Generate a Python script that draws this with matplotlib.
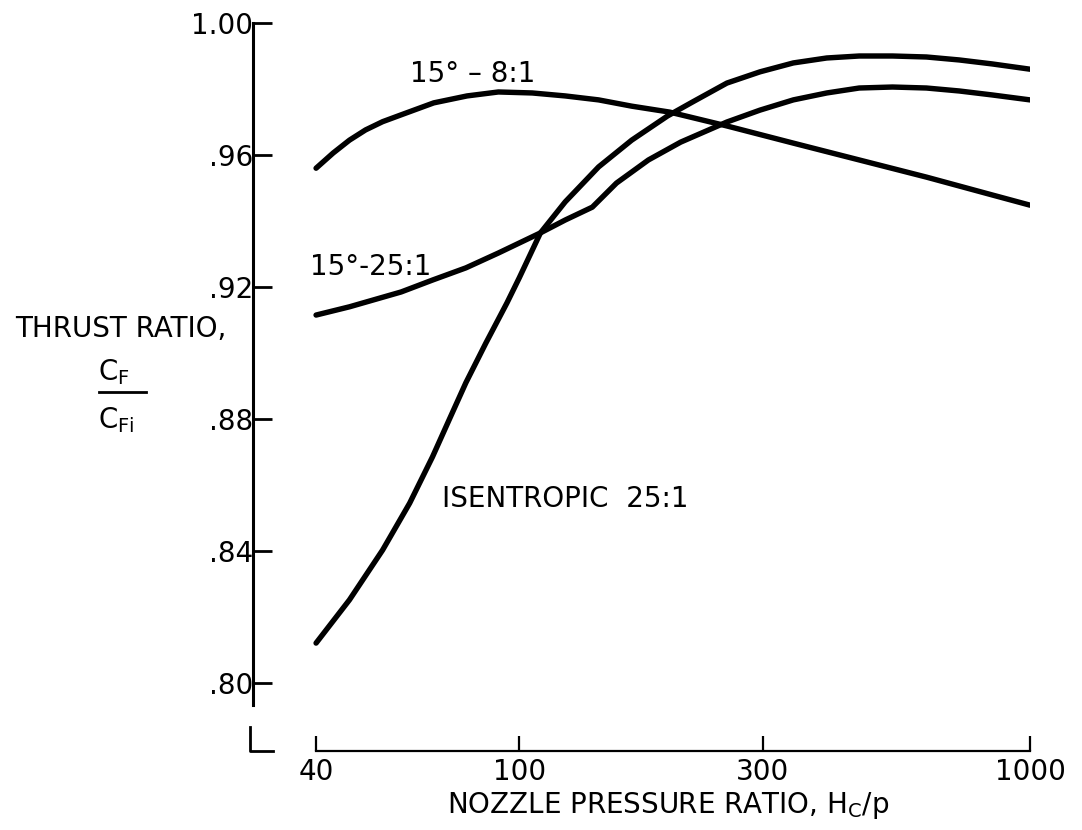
import numpy as np
import matplotlib
matplotlib.use("Agg")
import matplotlib.pyplot as plt
from matplotlib.lines import Line2D

# nozzle pressure ratio H_c/p and thrust ratio C_F/C_Fi
x_8to1 = [40, 43.2, 46.5, 50, 54, 59, 68, 79, 91, 106, 123, 143, 166, 197, 255, 344, 463, 627, 843, 1000]
y_8to1 = [0.956, 0.9606, 0.9645, 0.9676, 0.9701, 0.9723, 0.9758, 0.9779, 0.9791, 0.9788, 0.9779,
          0.9767, 0.9748, 0.9730, 0.9688, 0.9636, 0.9585, 0.9533, 0.9479, 0.9448]

x_25to1 = [40, 46.5, 58.7, 67.6, 78.6, 91, 110, 123, 139, 155, 179, 207, 255, 296, 344, 400,
           463, 538, 627, 727, 843, 1000]
y_25to1 = [0.9115, 0.9140, 0.9185, 0.9221, 0.9258, 0.9303, 0.9364, 0.9403, 0.9442, 0.9515,
           0.9585, 0.9639, 0.9700, 0.9736, 0.9767, 0.9788, 0.9803, 0.9806, 0.9803, 0.9794,
           0.9782, 0.9767]

x_isen = [40, 46.5, 54, 61, 67.6, 73, 78.6, 86, 94.6, 100, 110, 123, 143, 166, 195, 218, 255,
          296, 344, 400, 463, 538, 627, 727, 843, 1000]
y_isen = [0.8121, 0.8252, 0.8403, 0.8545, 0.8685, 0.8800, 0.8910, 0.9030, 0.9152, 0.9228,
          0.9364, 0.9458, 0.9564, 0.9645, 0.9718, 0.9760, 0.9818, 0.9852, 0.9879, 0.9894,
          0.9900, 0.9900, 0.9897, 0.9888, 0.9876, 0.9860]

x_ticks = [40, 100, 300, 1000]
x_ticklabels = ["40", "100", "300", "1000"]
y_ticks = [0.80, 0.84, 0.88, 0.92, 0.96, 1.00]
y_ticklabels = [".80", ".84", ".88", ".92", ".96", "1.00"]

W, H = 1082, 830
FS = 20


def fx(px):
    return px / W


def fy(py):
    return 1 - py / H


plt.rcParams['font.family'] = ['DejaVu Sans']
plt.rcParams['mathtext.fontset'] = 'dejavusans'

fig = plt.figure(figsize=(W / 100, H / 100), dpi=100)
ax = fig.add_axes([fx(253), fy(751), fx(1030) - fx(253), fy(23) - fy(751)])

for xs, ys in [(x_8to1, y_8to1), (x_25to1, y_25to1), (x_isen, y_isen)]:
    ax.plot(xs, ys, color='black', lw=3.9, solid_capstyle='round', solid_joinstyle='round')

ax.set_xscale('log')
ax.set_xlim(30.1, 1000)
ax.set_ylim(0.7794, 1.0)
ax.minorticks_off()
ax.set_xticks(x_ticks)
ax.set_xticklabels(x_ticklabels)
ax.set_yticks(y_ticks)
ax.set_yticklabels(y_ticklabels)

ax.spines['top'].set_visible(False)
ax.spines['right'].set_visible(False)
ax.spines['left'].set_linewidth(2.2)
ax.spines['left'].set_bounds(0.7933, 1.0)
ax.spines['bottom'].set_linewidth(1.6)
ax.spines['bottom'].set_bounds(40, 1000)

ax.tick_params(axis='y', direction='in', length=14, width=2, pad=0, labelsize=FS)
ax.tick_params(axis='x', direction='in', length=11, width=1.6, pad=5, labelsize=FS)

# little "L" break mark below the y axis
ax.add_line(Line2D([-0.004, -0.004, 0.026], [0.033, 0.0, 0.0], transform=ax.transAxes,
                   color='black', lw=2, clip_on=False))

# curve labels
fig.text(fx(410), fy(82), "15\u00b0 \u2013 8:1", fontsize=FS, va='baseline')
fig.text(fx(310), fy(275), "15\u00b0-25:1", fontsize=FS, va='baseline')
fig.text(fx(442), fy(507), "ISENTROPIC  25:1", fontsize=FS, va='baseline')

# y label
fig.text(fx(15), fy(337), "THRUST RATIO,", fontsize=FS, va='baseline')
fig.text(fx(98), fy(380), r"$\mathregular{C_F}$", fontsize=FS, va='baseline')
fig.add_artist(Line2D([fx(99), fx(146)], [fy(392), fy(392)], color='black', lw=2))
fig.text(fx(98), fy(428), r"$\mathregular{C_{Fi}}$", fontsize=FS, va='baseline')

# x label
fig.text(fx(447), fy(813), r"NOZZLE PRESSURE RATIO, $\mathregular{H_C/p}$", fontsize=FS,
         va='baseline')

fig.savefig('out.png', dpi=100)
